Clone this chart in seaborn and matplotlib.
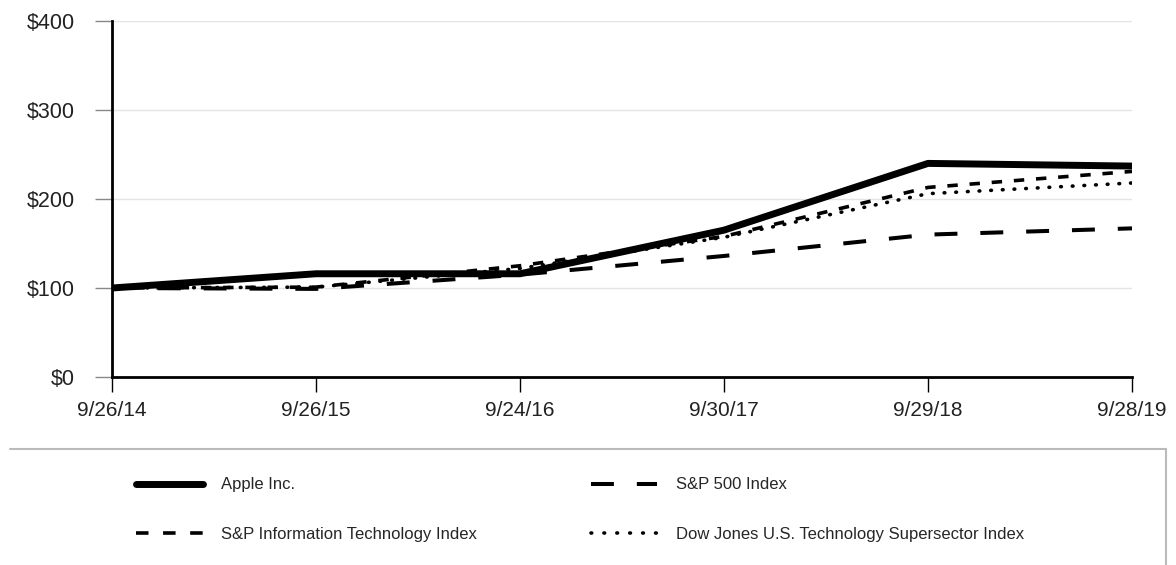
import numpy as np
import pandas as pd
import matplotlib
matplotlib.use("Agg")
import matplotlib.pyplot as plt
import seaborn as sns
from matplotlib.lines import Line2D

dates = ["9/26/14", "9/26/15", "9/24/16", "9/30/17", "9/29/18", "9/28/19"]
apple = [100, 116, 116, 165, 240, 237]
sp500 = [100, 99, 115, 136, 160, 167]
sp_it = [100, 101, 125, 158, 213, 231]
dj_tech = [100, 101, 122, 157, 206, 218]
names = ["Apple Inc.", "S&P 500 Index", "S&P Information Technology Index",
         "Dow Jones U.S. Technology Supersector Index"]

sns.set_style("white")
plt.rcParams['font.family'] = ['Liberation Sans', 'DejaVu Sans']
plt.rcParams['lines.scale_dashes'] = False

rows = []
for name, vals in zip(names, [apple, sp500, sp_it, dj_tech]):
    for i, v in enumerate(vals):
        rows.append({"idx": i, "value": v, "series": name})
df = pd.DataFrame(rows)

fig = plt.figure(figsize=(11.76, 5.65), dpi=100)
ax = fig.add_axes([112/1176, 1 - 377/565, 1020/1176, 356/565])

widths = {names[0]: 5.0, names[1]: 2.9, names[2]: 2.6, names[3]: 2.6}
styles = {names[0]: "", names[1]: (16.5, 16.5), names[2]: (7.5, 8.5),
          names[3]: (0.5, 7.9)}

for name in names:
    sub = df[df["series"] == name]
    sns.lineplot(data=sub, x="idx", y="value", ax=ax, legend=False,
                 color="black", linewidth=widths[name])
    ln = ax.lines[-1]
    if styles[name]:
        ln.set_dashes(styles[name])
    if name == names[3]:
        ln.set_dash_capstyle("round")

ax.set_xlim(0, 5)
ax.set_ylim(0, 400)
ax.set_xticks(range(len(dates)))
ax.set_xticklabels(dates)
ax.set_yticks([0, 100, 200, 300, 400])
ax.set_yticklabels(["$0", "$100", "$200", "$300", "$400"])
ax.set_xlabel("")
ax.set_ylabel("")
ax.grid(axis="y", color="#e4e4e4", linewidth=1)
ax.set_axisbelow(True)
for s in ["top", "right"]:
    ax.spines[s].set_visible(False)
for s in ["left", "bottom"]:
    ax.spines[s].set_linewidth(2)
    ax.spines[s].set_color("black")
ax.tick_params(axis="y", length=12, width=1, color="#888888", direction="out",
               labelsize=15.5, pad=15, labelcolor="#222222", left=True)
ax.tick_params(axis="x", length=11, width=1, color="black", direction="out",
               labelsize=15, pad=6, labelcolor="#222222", bottom=True)
ax.get_xticklines()[0].set_color("#bbbbbb")

# legend box: top and right edges only
box_x0, box_x1, box_y = 10/1176, 1166/1176, 1 - 449/565
fig.add_artist(Line2D([box_x0, box_x1], [box_y, box_y], transform=fig.transFigure,
                      color="#bbbbbb", linewidth=1.5))
fig.add_artist(Line2D([box_x1, box_x1], [box_y, 0], transform=fig.transFigure,
                      color="#bbbbbb", linewidth=1.5))

leg_styles = dict(styles)
leg_styles[names[2]] = (9, 10.5)
leg_styles[names[3]] = (0.5, 8.8)
handles = []
for name in names:
    h = Line2D([], [], color="black", linewidth=widths[name])
    if leg_styles[name]:
        h.set_dashes(leg_styles[name])
    if name == names[3]:
        h.set_dash_capstyle("round")
    handles.append(h)

order = [0, 2, 1, 3]
fig.legend([handles[i] for i in order], [names[i] for i in order],
           ncol=2, loc="upper left", bbox_to_anchor=(128/1176, 1 - 469/565),
           frameon=False, fontsize=12, handlelength=4.0, handletextpad=1.1,
           labelspacing=2.05, columnspacing=6.8, borderpad=0)

fig.savefig("out.png", dpi=100)
